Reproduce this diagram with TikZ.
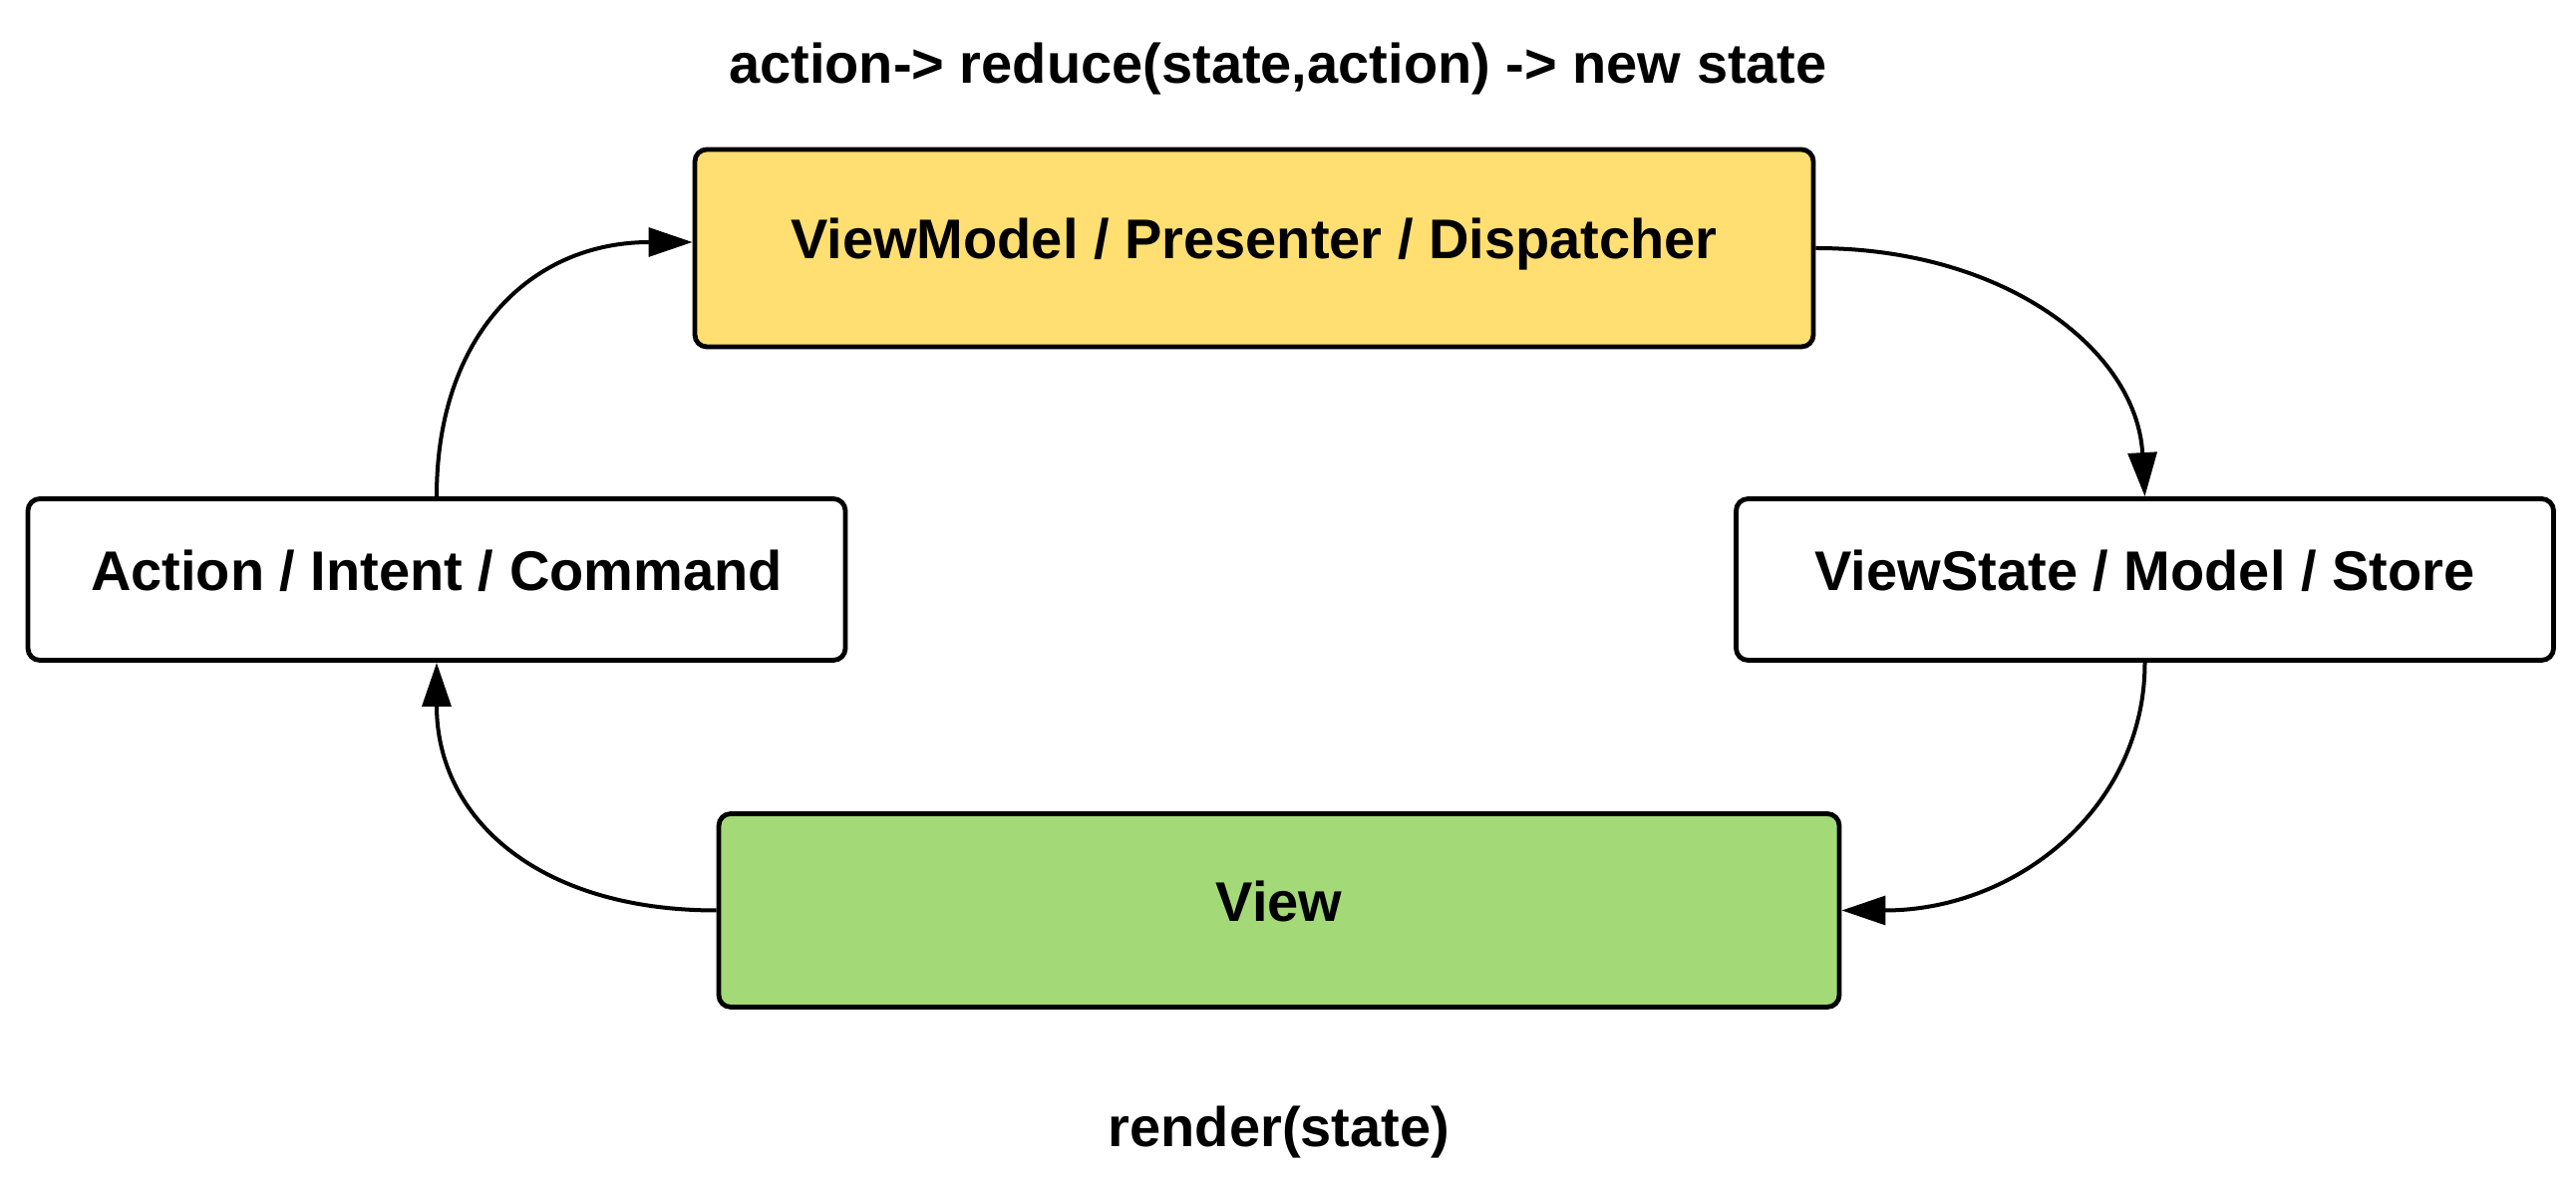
\documentclass[tikz,border=0pt]{standalone}
\usepackage{fontspec}
\setmainfont{Liberation Sans}
\usetikzlibrary{arrows.meta}
\definecolor{boxyellow}{HTML}{FFDF71}
\definecolor{boxgreen}{HTML}{A3D977}
\begin{document}
\begin{tikzpicture}[x=0.25pt,y=-0.25pt,
  box/.style={draw=black, line width=1.2pt, rounded corners=3pt, inner sep=0pt,
    font=\fontsize{14}{17}\selectfont\bfseries, text height=0.75em, text depth=0.22em},
  conn/.style={draw=black, line width=1pt, -{Triangle[length=11pt,width=7.2pt]}},
  label/.style={font=\fontsize{14}{17}\selectfont\bfseries, inner sep=0pt, anchor=base}]
\useasboundingbox (0,0) rectangle (2584,1185);
\node[box, fill=boxyellow, minimum width=280.5pt, minimum height=49.5pt] (vm) at (1258,249) {ViewModel / Presenter / Dispatcher};
\node[box, fill=white, minimum width=205pt, minimum height=40.5pt] (act) at (438,581.5) {Action / Intent / Command};
\node[box, fill=white, minimum width=205pt, minimum height=40.5pt] (vs) at (2151.5,581.5) {ViewState / Model / Store};
\node[box, fill=boxgreen, minimum width=281pt, minimum height=48.5pt] (view) at (1283,913.5) {View};
\node[label] (title) at (1282,84) {action-> reduce(state,action) -> new state};
\node[label] (render) at (1283,1151) {render(state)};
\draw[conn] (vm.east) .. controls +(191,0) and +(-8,-146) .. (vs.north);
\draw[conn] (vs.south) .. controls +(0,145) and +(176,0) .. (view.east);
\draw[conn] (view.west) .. controls +(-178,0) and +(0,157) .. (act.south);
\draw[conn] (act.north) .. controls +(0,-162) and +(-162,0) .. ([yshift=1.5pt]vm.west);
\end{tikzpicture}
\end{document}
